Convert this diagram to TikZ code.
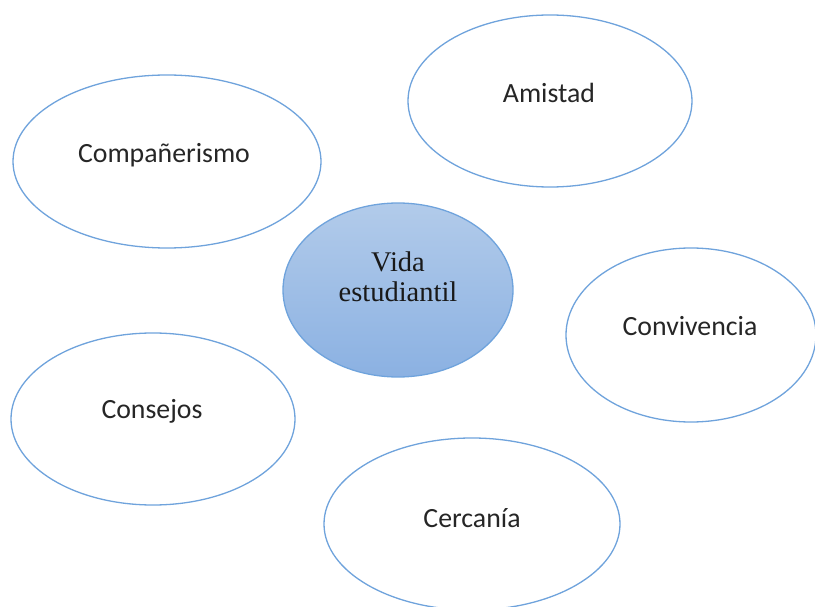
\documentclass[tikz,border=0pt]{standalone}
\usepackage{fontspec}
\setmainfont{Carlito}
\newfontfamily\serifface{Liberation Serif}
\usetikzlibrary{shapes.geometric}
\definecolor{bordblue}{HTML}{6FA3DC}
\definecolor{topblue}{HTML}{B2CBEA}
\definecolor{botblue}{HTML}{8BB1E2}
\begin{document}
\begin{tikzpicture}[x=1pt,y=-1pt,
  outer/.style={draw=bordblue, line width=1.3pt, fill=white, shape=ellipse, inner sep=0pt},
  txt/.style={font=\fontsize{27.8}{30}\selectfont, text=black!85},
  ]
\useasboundingbox (0,0) rectangle (815,607);
\node[outer, minimum width=308pt, minimum height=173pt] (comp) at (167,161.5) {};
\node[txt] (tcomp) at (164,155) {Compañerismo};
\node[outer, minimum width=284pt, minimum height=172pt] (amis) at (550,101) {};
\node[txt] (tamis) at (549,93) {Amistad};
\node[outer, minimum width=250pt, minimum height=174pt] (conv) at (691,335) {};
\node[txt] (tconv) at (690,326) {Convivencia};
\node[outer, minimum width=284pt, minimum height=172pt] (cons) at (153,419) {};
\node[txt] (tcons) at (152,411) {Consejos};
\node[outer, minimum width=296pt, minimum height=172pt] (cerc) at (472,524) {};
\node[txt] (tcerc) at (472,518) {Cercanía};
\node[draw=bordblue, line width=1.3pt, top color=topblue, bottom color=botblue, shape=ellipse, inner sep=0pt, minimum width=230pt, minimum height=174pt] (vida) at (398,290) {};
\node[font=\serifface\fontsize{28.5}{30}\selectfont, align=center, text=black!90] (tvida) at (398,277) {Vida\\estudiantil};
\end{tikzpicture}
\end{document}
